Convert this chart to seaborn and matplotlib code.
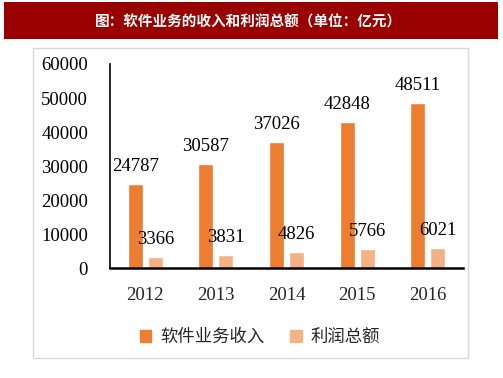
import pandas as pd
import matplotlib.pyplot as plt
import matplotlib.patches as mpatches
import seaborn as sns

# 数据
years = ['2012', '2013', '2014', '2015', '2016']
revenue = [24787, 30587, 37026, 42848, 48511]
profit = [3366, 3831, 4826, 5766, 6021]
series_names = ['软件业务收入', '利润总额']
colors = ['#ED7D31', '#F4B183']

df = pd.DataFrame({
    'year': years * 2,
    'value': revenue + profit,
    'series': [series_names[0]] * len(years) + [series_names[1]] * len(years),
})

sns.set_style('white')
plt.rcParams['font.family'] = ['Noto Sans CJK SC', 'DejaVu Sans']
num_font = 'Liberation Serif'

fig = plt.figure(figsize=(5.03, 3.78), dpi=100)

# 外框和标题栏
fig.patches.append(mpatches.Rectangle((0.0656, 0.0529), 0.865, 0.820, transform=fig.transFigure,
                                      facecolor='none', edgecolor='#d9d9d9', lw=1, zorder=0))
fig.patches.append(mpatches.Rectangle((0.008, 0.897), 0.982, 0.098, transform=fig.transFigure,
                                      facecolor='#990000', edgecolor='none', zorder=0))
fig.text(0.494, 0.943, '图：软件业务的收入和利润总额（单位：亿元）', color='white',
         fontsize=10.5, fontweight='bold', ha='center', va='center')

ax = fig.add_axes([0.2187, 0.2897, 0.7018, 0.541])
sns.barplot(data=df, x='year', y='value', hue='series', palette=colors,
            width=0.567, gap=0.25, ax=ax, legend=False, saturation=1)

# 数值标签
for cont in ax.containers:
    for bar in cont:
        h = bar.get_height()
        ax.annotate(f'{h:.0f}', (bar.get_x() + bar.get_width() / 2, h),
                    xytext=(0, 9.5), textcoords='offset points', ha='center', va='baseline',
                    fontsize=13.5, family=num_font, color='black')

ax.set_ylim(0, 60000)
ax.set_xlim(-0.5, 4.5)
ax.set_yticks(range(0, 60001, 10000))
ax.set_yticklabels([str(v) for v in range(0, 60001, 10000)], family=num_font, fontsize=13.5)
ax.tick_params(axis='y', direction='out', length=5, width=1, pad=10.8, colors='black')

# x 轴：分类边界刻度 + 居中标签
ax.set_xticks([i - 0.5 for i in range(len(years) + 1)])
ax.set_xticklabels([])
ax.tick_params(axis='x', which='major', direction='in', length=5, width=1)
ax.set_xticks(range(len(years)), minor=True)
ax.set_xticklabels(years, minor=True, family=num_font, fontsize=13.5)
ax.tick_params(axis='x', which='minor', length=0, pad=13)

ax.set_xlabel('')
ax.set_ylabel('')
for s in ['top', 'right']:
    ax.spines[s].set_visible(False)
ax.spines['left'].set_linewidth(1.2)
ax.spines['bottom'].set_linewidth(1.8)
ax.spines['left'].set_color('black')
ax.spines['bottom'].set_color('black')

handles = [mpatches.Patch(color=c, label=n) for c, n in zip(colors, series_names)]
fig.legend(handles=handles, loc='center', bbox_to_anchor=(0.517, 0.108), ncol=2, frameon=False,
           fontsize=12.5, handlelength=0.65, handleheight=0.65, handletextpad=0.5, columnspacing=1.5)

fig.savefig('out.png', dpi=100)
